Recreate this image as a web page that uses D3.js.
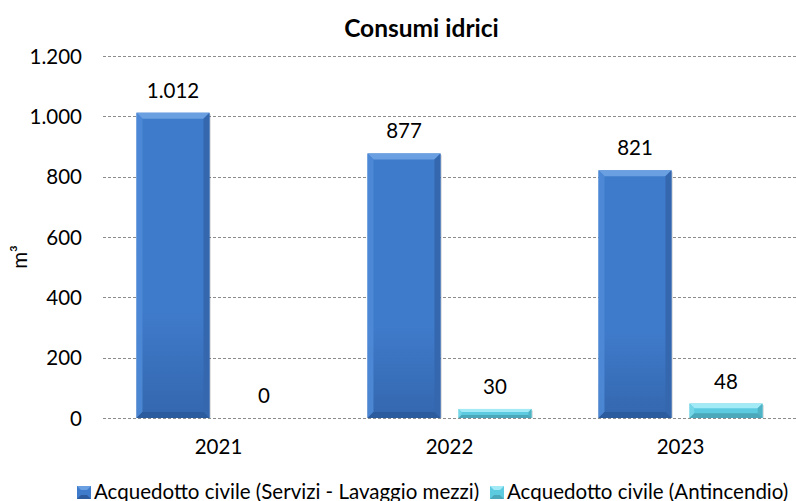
<!DOCTYPE html>
<html><head><meta charset="utf-8">
<script src="https://cdn.jsdelivr.net/npm/d3@7"></script>
<style>body{margin:0;background:#fff}svg{display:block}text{font-family:Lato,"Open Sans",sans-serif;fill:#000}</style>
</head><body><svg id="c" width="796" height="501"></svg>
<script>
const categories = ["2021","2022","2023"];
const seriesNames = ["Acquedotto civile (Servizi - Lavaggio mezzi)","Acquedotto civile (Antincendio)"];
const servizi = [1012, 877, 821];
const antincendio = [0, 30, 48];
const yTicks = [0,200,400,600,800,1000,1200];
const title = "Consumi idrici";
const yTitle = "m³";

const palette = [
  {base:"#3F7BCB", light:"#6A9FE2", lightSide:"#4E89D6", dark:"#2C5C9E", darkSide:"#3467AE", grad:"#3467AE"},
  {base:"#5CCBE0", light:"#A2EAF5", lightSide:"#78D7E8", dark:"#4AA8BA", darkSide:"#4FB3C6", grad:"#56C0D5"}
];
const series = [servizi, antincendio];
const fmt = v => d3.format(",")(v).replace(/,/g,".");
const FS = "20.5px";

const svg = d3.select("#c");
const L = 103, R = 796, T = 56, B = 418;
const x0 = d3.scaleBand().domain(categories).range([L,R]).padding(0);
const x1 = d3.scaleBand().domain([0,1]).range([0,x0.bandwidth()]).paddingInner(0.198).paddingOuter(0.368);
const y = d3.scaleLinear().domain([0,1200]).range([B,T]);

const defs = svg.append("defs");
palette.forEach((p,i)=>{
  const g = defs.append("linearGradient").attr("id","g"+i).attr("x1",0).attr("x2",0).attr("y1",0).attr("y2",1);
  g.append("stop").attr("offset","0%").attr("stop-color",p.base);
  g.append("stop").attr("offset","65%").attr("stop-color",p.base);
  g.append("stop").attr("offset","100%").attr("stop-color",p.grad);
});

svg.append("g").selectAll("line").data(yTicks).join("line")
  .attr("x1",L).attr("x2",R).attr("y1",d=>Math.round(y(d))+0.5).attr("y2",d=>Math.round(y(d))+0.5)
  .attr("stroke","#8c8c8c").attr("stroke-width",1).attr("stroke-dasharray","3,2");

const yAxis = d3.axisLeft(y).tickValues(yTicks).tickFormat(fmt).tickSize(0).tickPadding(0);
const ya = svg.append("g").attr("transform",`translate(82,0)`).call(yAxis);
ya.select(".domain").remove();
ya.selectAll("text").style("font-size",FS).attr("font-family","Lato").attr("fill","#000").attr("dy","0.35em");

const xAxis = d3.axisBottom(x0).tickSize(0).tickPadding(0);
const xa = svg.append("g").attr("transform",`translate(0,439)`).call(xAxis);
xa.select(".domain").remove();
xa.selectAll("text").style("font-size",FS).attr("font-family","Lato").attr("fill","#000").attr("dy","0.72em");

const bev = 6;
series.forEach((vals,si)=>{
  const p = palette[si];
  vals.forEach((v,ci)=>{
    const bx = x0(categories[ci]) + x1(si);
    const bw = x1.bandwidth();
    const by = y(v), bh = B - y(v);
    const g = svg.append("g");
    if (bh <= 0) return;
    const b = Math.min(bev, bh/3);
    g.append("rect").attr("x",bx+1.5).attr("y",by+1.5).attr("width",bw).attr("height",bh-1.5).attr("fill","#000").attr("opacity",0.12);
    g.append("rect").attr("x",bx).attr("y",by).attr("width",bw).attr("height",bh).attr("fill",`url(#g${si})`);
    const poly = pts => g.append("polygon").attr("points",pts.map(p=>p.join(",")).join(" "));
    poly([[bx,by],[bx+bw,by],[bx+bw-b,by+b],[bx+b,by+b]]).attr("fill",p.light);
    poly([[bx,by],[bx+b,by+b],[bx+b,by+bh-b],[bx,by+bh]]).attr("fill",p.lightSide).attr("opacity",0.9);
    poly([[bx+bw,by],[bx+bw,by+bh],[bx+bw-b,by+bh-b],[bx+bw-b,by+b]]).attr("fill",p.darkSide);
    poly([[bx,by+bh],[bx+b,by+bh-b],[bx+bw-b,by+bh-b],[bx+bw,by+bh]]).attr("fill",p.dark);
  });
  svg.append("g").selectAll("text").data(vals).join("text")
    .attr("x",(d,ci)=>x0(categories[ci]) + x1(si) + x1.bandwidth()/2)
    .attr("y",d=>y(d)-15)
    .attr("text-anchor","middle").style("font-size",FS).text(d=>fmt(d));
});

svg.append("text").attr("x",421.5).attr("y",37).attr("text-anchor","middle")
  .style("font-size","24.5px").style("font-weight","bold").text(title);

svg.append("text").attr("transform","translate(27,257) rotate(-90)").attr("text-anchor","middle")
  .style("font-size",FS).text(yTitle);

const legX = [77, 490];
seriesNames.forEach((n,i)=>{
  const p = palette[i];
  const lg = svg.append("g").attr("transform",`translate(${legX[i]},486)`);
  lg.append("rect").attr("width",14).attr("height",13).attr("fill",p.base);
  lg.append("polygon").attr("points","0,0 14,0 10,4 4,4").attr("fill",p.light);
  lg.append("polygon").attr("points","0,13 14,13 10,9 4,9").attr("fill",p.dark);
  lg.append("text").attr("x",17).attr("y",12.5).style("font-size",FS).text(n);
});
</script></body></html>
